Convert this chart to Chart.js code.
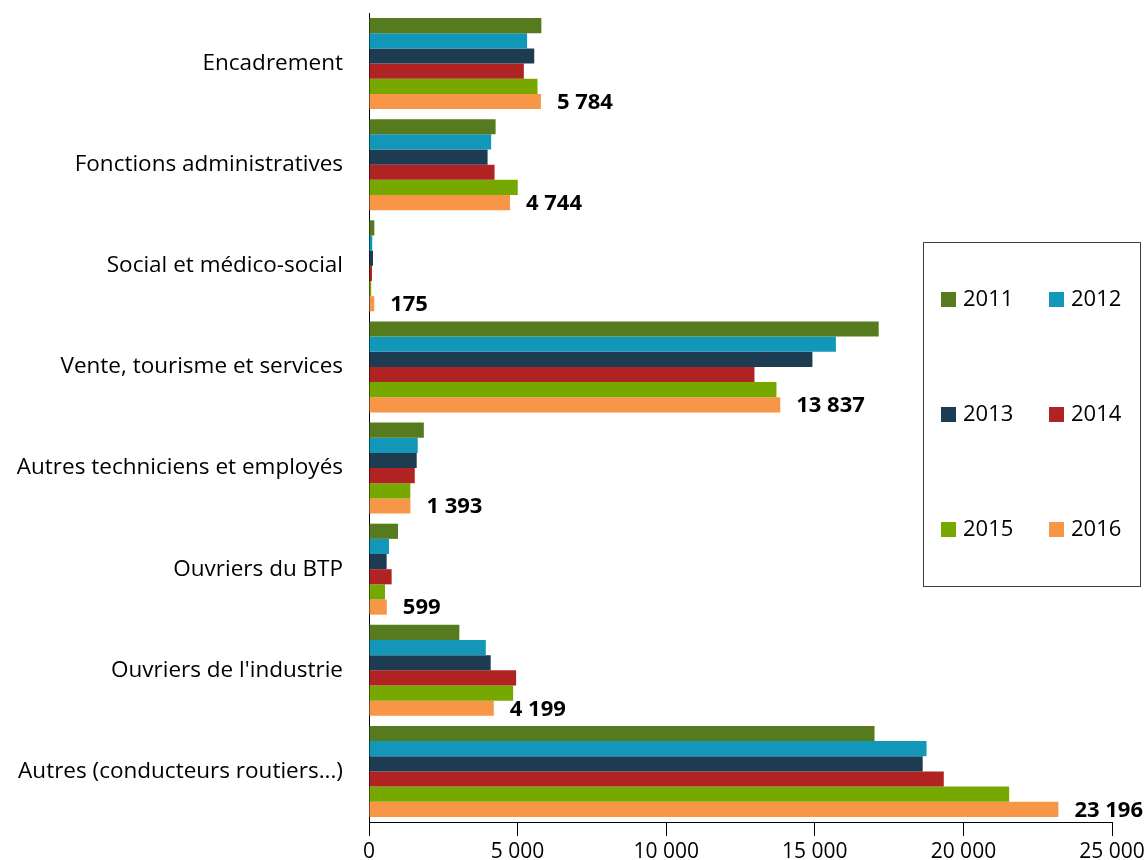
<!DOCTYPE html>
<html>
<head>
<meta charset="utf-8">
<script src="https://cdn.jsdelivr.net/npm/chart.js@4.4.1/dist/chart.umd.min.js"></script>
<style>
  html, body { margin: 0; padding: 0; background: #fff; }
  #wrap { width: 1148px; height: 860px; position: relative; }
</style>
</head>
<body>
<div id="wrap"><canvas id="chart"></canvas></div>
<script>
// categories, top to bottom
const categories = [
    "Encadrement",
    "Fonctions administratives",
    "Social et médico-social",
    "Vente, tourisme et services",
    "Autres techniciens et employés",
    "Ouvriers du BTP",
    "Ouvriers de l'industrie",
    "Autres (conducteurs routiers...)"
];
const years = ["2011", "2012", "2013", "2014", "2015", "2016"];
const colors = ["#567A1E", "#1397B8", "#1E3C51", "#B12323", "#77A800", "#F79646"];

const v2011 = [5800, 4260, 180, 17150, 1845, 975, 3040, 17010];
const v2012 = [5320, 4110, 110, 15710, 1640, 672, 3930, 18760];
const v2013 = [5560, 3990, 135, 14920, 1605, 594, 4095, 18630];
const v2014 = [5210, 4225, 100, 12970, 1540, 762, 4950, 19340];
const v2015 = [5670, 5005, 75, 13710, 1390, 538, 4850, 21540];
const v2016 = [5784, 4744, 175, 13837, 1393, 599, 4199, 23196];
const series = [v2011, v2012, v2013, v2014, v2015, v2016];

const xTicks = [0, 5000, 10000, 15000, 20000, 25000];

const FONT = "'Open Sans', sans-serif";

function fmt(v) {
    return String(Math.round(v)).replace(/\B(?=(\d{3})+(?!\d))/g, " ");
}

// bold value labels on the last series (2016)
const lastLabels = {
    id: 'lastLabels',
    afterDatasetsDraw(chart) {
        const ctx = chart.ctx;
        const idx = chart.data.datasets.length - 1;
        const meta = chart.getDatasetMeta(idx);
        ctx.save();
        ctx.font = "bold 22px " + FONT;
        ctx.fillStyle = "#000";
        ctx.textAlign = "left";
        ctx.textBaseline = "middle";
        meta.data.forEach((bar, i) => {
            ctx.fillText(fmt(chart.data.datasets[idx].data[i]), bar.x + 16, bar.y + 1);
        });
        ctx.restore();
    }
};

// boxed legend, 2 columns x 3 rows
const boxLegend = {
    id: 'boxLegend',
    afterDraw(chart) {
        const ctx = chart.ctx;
        const x0 = 923, y0 = 242, x1 = 1140, y1 = 586;
        ctx.save();
        ctx.strokeStyle = "#404040";
        ctx.lineWidth = 1;
        ctx.strokeRect(x0 + 0.5, y0 + 0.5, x1 - x0, y1 - y0);
        ctx.font = "22px " + FONT;
        ctx.textBaseline = "middle";
        ctx.textAlign = "left";
        const rowsY = [299, 414, 529];
        const colsX = [941, 1049];
        chart.data.datasets.forEach((ds, i) => {
            const cx = colsX[i % 2];
            const cy = rowsY[Math.floor(i / 2)];
            ctx.fillStyle = ds.backgroundColor;
            ctx.fillRect(cx, cy - 7, 15, 15);
            ctx.fillStyle = "#000";
            ctx.fillText(ds.label, cx + 22, cy + 1);
        });
        ctx.restore();
    }
};

const datasets = years.map((y, i) => ({
    label: y,
    data: series[i],
    backgroundColor: colors[i],
    borderWidth: 0,
    categoryPercentage: 0.9,
    barPercentage: 1.0
}));

new Chart(document.getElementById("chart"), {
    type: "bar",
    data: { labels: categories, datasets: datasets },
    options: {
        indexAxis: "y",
        responsive: true,
        maintainAspectRatio: false,
        animation: false,
        layout: { padding: { top: 13, right: 36, left: 0, bottom: 0 } },
        plugins: {
            legend: { display: false },
            tooltip: { enabled: false }
        },
        scales: {
            x: {
                min: 0,
                max: 25000,
                afterBuildTicks(scale) {
                    scale.ticks = xTicks.map(v => ({ value: v }));
                },
                afterFit(scale) {
                    scale.height = 38;
                    scale.paddingLeft = 0;
                    scale.paddingRight = 0;
                },
                grid: {
                    display: true,
                    drawOnChartArea: false,
                    drawTicks: true,
                    tickLength: 14,
                    color: "#000"
                },
                border: { display: true, color: "#000", width: 1 },
                ticks: {
                    color: "#000",
                    font: { family: FONT, size: 21 },
                    padding: 3,
                    maxRotation: 0,
                    callback: v => fmt(v)
                }
            },
            y: {
                afterFit(scale) {
                    scale.width = 369;
                    scale.paddingTop = 0;
                    scale.paddingBottom = 0;
                },
                grid: { display: false, drawTicks: false },
                border: { display: true, color: "#000", width: 1 },
                ticks: {
                    color: "#000",
                    font: { family: FONT, size: 22.5 },
                    padding: 26
                }
            }
        }
    },
    plugins: [lastLabels, boxLegend]
});
</script>
</body>
</html>
